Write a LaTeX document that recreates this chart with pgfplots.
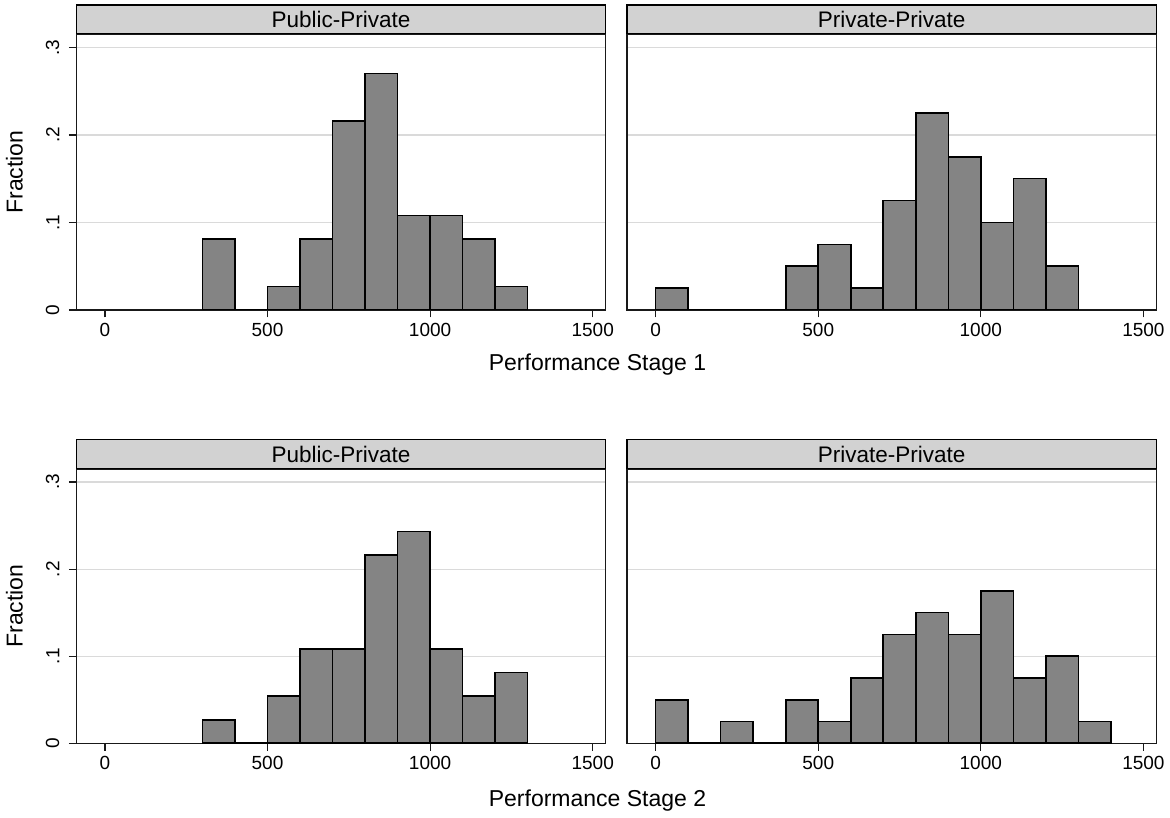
\documentclass[border=0pt]{standalone}
\usepackage{fontspec}
\setmainfont{Liberation Sans}
\usepackage{pgfplots}
\pgfplotsset{compat=1.18}
\definecolor{barfill}{RGB}{132,132,132}
\definecolor{stripgray}{RGB}{210,210,210}
\definecolor{gridgray}{RGB}{218,218,218}
\pgfplotsset{
  panel/.style={
    scale only axis, width=529.4bp,
    xmin=-88, xmax=1540, ymin=0, ymax=0.315,
    xtick={0,500,1000,1500}, ytick={0,0.1,0.2,0.3},
    tick align=outside, xtick pos=bottom, ytick pos=left,
    major tick length=7.5bp,
    ymajorgrids, grid style={gridgray, line width=1.2bp},
    axis line style={black!90, line width=1.4bp},
    every tick/.style={black!90, line width=1.2bp},
    /pgf/number format/assume math mode=true,
    /pgf/number format/set thousands separator={},
    tick label style={font=\fontsize{19bp}{22bp}\selectfont},
    xticklabel style={yshift=-2bp},
    yticklabels={0,.1,.2,.3},
    yticklabel style={xshift=-6bp, rotate=90, anchor=south},
    every axis title shift=0pt,
    title style={at={(0.5,1)}, anchor=south, draw=black, line width=1.4bp,
      fill=stripgray, minimum width=529.4bp, minimum height=28.6bp,
      inner sep=0pt, font=\fontsize{22.5bp}{26bp}\selectfont},
  },
  rightpanel/.style={yticklabels={,,,}, ytick style={draw=none}},
  bars/.style={ybar interval, fill=barfill, draw=black, line width=1.6bp},
}
\begin{document}
\begin{tikzpicture}[x=1bp,y=1bp]
\path[use as bounding box] (0,0) rectangle (1170,818);
% top-left
\begin{axis}[panel, height=275.7bp, at={(76.3bp,508bp)}, anchor=south west, title={Public-Private}]
\addplot[bars] coordinates {(300,0.0811) (400,0) (500,0.0270) (600,0.0811) (700,0.2162) (800,0.2703) (900,0.1081) (1000,0.1081) (1100,0.0811) (1200,0.0270) (1300,0)};
\end{axis}
% top-right
\begin{axis}[panel, rightpanel, height=275.7bp, at={(627bp,508bp)}, anchor=south west, title={Private-Private}]
\addplot[bars] coordinates {(0,0.025) (100,0) (200,0) (300,0) (400,0.05) (500,0.075) (600,0.025) (700,0.125) (800,0.225) (900,0.175) (1000,0.1) (1100,0.15) (1200,0.05) (1300,0)};
\end{axis}
% bottom-left
\begin{axis}[panel, height=274.3bp, at={(76.3bp,74.7bp)}, anchor=south west, title={Public-Private}]
\addplot[bars] coordinates {(300,0.0270) (400,0) (500,0.0541) (600,0.1081) (700,0.1081) (800,0.2162) (900,0.2432) (1000,0.1081) (1100,0.0541) (1200,0.0811) (1300,0)};
\end{axis}
% bottom-right
\begin{axis}[panel, rightpanel, height=274.3bp, at={(627bp,74.7bp)}, anchor=south west, title={Private-Private}]
\addplot[bars] coordinates {(0,0.05) (100,0) (200,0.025) (300,0) (400,0.05) (500,0.025) (600,0.075) (700,0.125) (800,0.15) (900,0.125) (1000,0.175) (1100,0.075) (1200,0.1) (1300,0.025) (1400,0)};
\end{axis}
\node[rotate=90, inner sep=0pt, font=\fontsize{23bp}{26bp}\selectfont] at (14.3,646) {Fraction};
\node[rotate=90, inner sep=0pt, font=\fontsize{23bp}{26bp}\selectfont] at (14.3,212) {Fraction};
\node[anchor=base, inner sep=0pt, font=\fontsize{23bp}{26bp}\selectfont] at (597.5,447) {Performance Stage 1};
\node[anchor=base, inner sep=0pt, font=\fontsize{23bp}{26bp}\selectfont] at (597.5,11) {Performance Stage 2};
\end{tikzpicture}
\end{document}
